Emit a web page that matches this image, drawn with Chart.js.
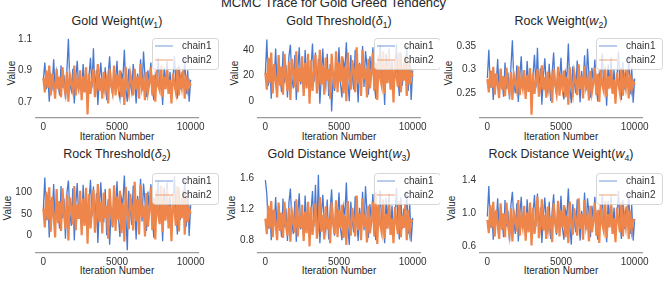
<!DOCTYPE html>
<html>
<head>
<meta charset="utf-8">
<title>MCMC Trace for Gold Greed Tendency</title>
<script src="https://cdn.jsdelivr.net/npm/chart.js"></script>
<style>
    body {
        margin: 0;
        width: 667px;
        height: 282px;
        overflow: hidden;
        position: relative;
        background: #fff;
        font-family: 'Liberation Sans', Arial, sans-serif;
        color: #262626;
    }
    canvas { position: absolute; }
    .suptitle { position: absolute; left: 0; width: 667px; top: -5px; text-align: center; font-size: 13px; line-height: 16px; }
    .ptitle { position: absolute; width: 200px; text-align: center; font-size: 12.5px; line-height: 14px; white-space: nowrap; }
    .ptitle sub { font-size: 70%; vertical-align: -0.3em; line-height: 0; }
    .ylab { position: absolute; width: 60px; text-align: center; font-size: 10px; line-height: 12px; transform: rotate(-90deg); }
    .xlab { position: absolute; width: 160px; text-align: center; font-size: 10px; line-height: 12px; }
</style>
</head>
<body>
<div class="suptitle">MCMC Trace for Gold Greed Tendency</div>
<script>
    // tick positions shared by every panel
    const xTicks = [0, 5000, 10000];
    const iterStep = 100;

    // Gold Weight (w1)
    const goldWeight1 = [0.84,0.95,0.78,0.88,0.70,0.86,0.80,0.97,0.76,0.89,
        0.82,0.74,0.93,0.79,0.87,0.72,0.90,1.10,0.81,0.77,
        0.91,0.69,0.85,0.96,0.78,0.83,0.75,0.94,0.80,0.88,
        0.73,0.86,0.98,0.79,1.04,0.76,0.90,0.68,0.84,0.95,
        0.81,0.77,0.92,0.71,0.87,0.99,0.80,0.75,0.89,0.83,
        0.96,0.78,0.72,0.88,0.85,1.03,0.79,0.70,0.91,0.82,
        0.76,0.94,0.84,0.69,0.88,0.80,0.97,0.77,1.02,0.86,
        0.73,0.90,0.81,0.95,0.78,0.71,0.87,0.83,0.98,0.79,
        0.85,0.68,0.92,0.80,0.96,0.76,0.89,0.74,0.84,0.99,
        0.81,0.72,0.93,0.78,0.87,0.82,0.97,0.75,0.90,0.70,0.84];
    const goldWeight2 = [0.85,0.76,0.90,0.79,0.93,0.74,0.88,0.81,0.72,0.91,
        0.78,0.86,0.73,0.92,0.80,0.75,0.89,0.70,0.87,0.82,
        0.77,0.93,0.74,0.84,0.79,0.90,0.71,0.86,0.76,0.92,
        0.62,0.88,0.75,0.83,0.91,0.73,0.80,0.94,0.77,0.85,
        0.72,0.89,0.78,0.84,0.69,0.91,0.81,0.76,0.93,0.74,
        0.87,0.79,0.90,0.73,0.85,0.68,0.92,0.80,0.75,0.88,
        0.83,0.74,0.91,0.78,0.86,0.72,0.94,0.79,0.84,0.71,
        0.89,0.76,0.82,0.92,0.74,0.87,0.70,0.90,0.80,0.77,
        0.93,0.73,0.86,0.78,0.91,0.75,0.84,0.69,0.88,0.81,
        0.76,0.92,0.74,0.85,0.79,0.90,0.72,0.87,0.78,0.83,0.80];
    const goldWeightTicks = [0.7, 0.9, 1.1];
    const goldWeightTickLabels = ['0.7', '0.9', '1.1'];

    // Gold Threshold (delta1)
    const goldThreshold1 = [21,48,12,33,2,27,16,41,9,30,
        19,7,39,14,28,3,35,44,18,10,
        36,1,24,42,13,22,6,40,17,31,
        5,26,45,15,38,8,33,-2,20,41,
        17,11,37,4,29,-8,18,8,32,22,
        42,14,3,31,25,46,15,0,36,20,
        9,40,24,-1,30,16,43,11,39,27,
        5,35,19,42,13,2,29,21,44,15,
        25,-3,37,17,41,10,32,6,22,45,
        18,4,38,12,30,20,43,8,33,1,24];
    const goldThreshold2 = [22,9,34,14,38,6,29,17,3,36,
        12,27,5,37,19,8,31,1,33,24,
        11,39,7,26,15,35,4,30,10,37,
        -2,32,8,23,36,6,18,40,13,28,
        5,34,16,25,2,37,20,10,39,7,
        30,15,35,6,27,0,38,19,9,32,
        24,7,42,14,29,4,40,17,26,3,
        33,10,22,38,8,30,1,36,18,12,
        39,6,28,14,37,9,25,-1,33,20,
        11,38,7,27,16,35,4,31,13,23,19];
    const goldThresholdTicks = [0, 20, 40];
    const goldThresholdTickLabels = ['0', '20', '40'];

    // Rock Weight (w2)
    const rockWeight1 = [0.282,0.342,0.262,0.297,0.236,0.290,0.268,0.322,0.252,0.301,
        0.276,0.243,0.315,0.259,0.294,0.238,0.305,0.362,0.271,0.250,
        0.309,0.232,0.285,0.328,0.257,0.279,0.245,0.318,0.266,0.298,
        0.240,0.288,0.331,0.262,0.346,0.251,0.303,0.226,0.283,0.324,
        0.270,0.254,0.312,0.234,0.293,0.336,0.268,0.247,0.301,0.278,
        0.325,0.258,0.237,0.296,0.284,0.355,0.263,0.229,0.307,0.274,
        0.250,0.319,0.281,0.231,0.297,0.265,0.330,0.256,0.344,0.286,
        0.241,0.304,0.272,0.321,0.259,0.233,0.292,0.278,0.334,0.263,
        0.285,0.224,0.311,0.267,0.326,0.252,0.300,0.243,0.281,0.338,
        0.270,0.236,0.316,0.258,0.293,0.275,0.329,0.248,0.305,0.230,0.281];
    const rockWeight2 = [0.280,0.252,0.298,0.262,0.306,0.247,0.292,0.268,0.240,0.302,
        0.258,0.286,0.244,0.304,0.266,0.250,0.295,0.236,0.289,0.273,
        0.256,0.307,0.246,0.281,0.262,0.299,0.238,0.288,0.253,0.303,
        0.205,0.293,0.249,0.277,0.301,0.243,0.265,0.309,0.257,0.284,
        0.241,0.296,0.260,0.279,0.230,0.302,0.270,0.251,0.306,0.245,
        0.290,0.263,0.298,0.242,0.283,0.226,0.305,0.268,0.248,0.294,
        0.276,0.246,0.311,0.259,0.287,0.239,0.308,0.264,0.280,0.235,
        0.297,0.252,0.272,0.304,0.246,0.291,0.232,0.300,0.267,0.255,
        0.306,0.243,0.286,0.260,0.302,0.249,0.279,0.228,0.293,0.270,
        0.251,0.305,0.245,0.284,0.262,0.299,0.239,0.290,0.258,0.276,0.268];
    const rockWeightTicks = [0.25, 0.3, 0.35];
    const rockWeightTickLabels = ['0.25', '0.3', '0.35'];

    // Rock Threshold (delta2)
    const rockThreshold1 = [60,135,35,95,-5,82,45,120,25,90,
        58,15,115,40,86,-8,100,128,50,22,
        110,-12,72,122,38,64,12,118,48,92,
        6,80,130,44,114,20,98,-18,62,124,
        52,30,108,0,84,-22,55,18,96,66,
        126,42,-4,88,74,140,46,-35,104,60,
        24,116,70,-10,92,48,132,32,121,80,
        10,102,56,119,40,-6,86,64,127,44,
        76,-14,112,50,124,28,94,14,68,138,
        54,2,113,36,88,60,129,20,100,-2,70];
    const rockThreshold2 = [62,18,102,35,112,8,90,44,-5,108,
        28,80,10,110,50,15,95,-12,88,66,
        25,115,12,72,38,104,0,86,22,111,
        -20,96,16,60,107,6,46,120,31,78,
        4,100,40,68,-8,109,55,20,117,10,
        90,36,104,5,75,-15,113,52,14,97,
        64,11,125,33,84,2,118,42,70,-3,
        99,20,58,112,12,88,-10,106,48,26,
        116,7,80,34,110,16,69,-14,98,56,
        22,114,9,76,40,105,1,91,30,63,50];
    const rockThresholdTicks = [0, 50, 100];
    const rockThresholdTickLabels = ['0', '50', '100'];

    // Gold Distance Weight (w3)
    const goldDist1 = [1.58,1.40,0.95,1.22,0.80,1.18,1.01,1.36,0.90,1.25,
        1.06,0.84,1.34,0.97,1.21,0.79,1.29,1.47,1.03,0.88,
        1.31,0.78,1.14,1.41,0.94,1.09,0.85,1.38,1.00,1.23,
        0.82,1.17,1.44,0.98,1.52,0.89,1.65,0.76,1.12,1.39,
        1.04,0.92,1.33,0.81,1.20,1.46,1.02,0.86,1.26,1.08,
        1.42,0.96,0.80,1.24,1.13,1.55,0.99,0.74,1.30,1.05,
        0.90,1.37,1.10,0.79,1.22,1.00,1.43,0.93,1.50,1.16,
        0.83,1.27,1.04,1.40,0.97,0.80,1.19,1.07,1.45,0.99,
        1.11,0.76,1.35,1.02,1.41,0.91,1.25,0.85,1.10,1.48,
        1.05,0.81,1.36,0.95,1.21,1.06,1.44,0.88,1.28,0.78,1.09];
    const goldDist2 = [1.08,0.88,1.25,0.95,1.31,0.84,1.20,1.00,0.80,1.29,
        0.92,1.16,0.83,1.30,0.99,0.86,1.22,0.78,1.18,1.06,
        0.90,1.33,0.85,1.10,0.96,1.26,0.79,1.17,0.89,1.30,
        0.72,1.23,0.87,1.05,1.28,0.82,0.98,1.36,0.91,1.13,
        0.81,1.24,0.94,1.09,0.76,1.29,1.02,0.88,1.32,0.84,
        1.19,0.96,1.26,0.83,1.12,0.74,1.31,1.01,0.86,1.22,
        1.07,0.85,1.38,0.93,1.15,0.80,1.34,0.97,1.10,0.77,
        1.25,0.89,1.04,1.30,0.85,1.42,0.75,1.27,1.00,0.90,
        1.33,0.82,1.14,0.95,1.29,0.87,1.08,0.76,1.23,1.03,
        0.88,1.31,0.84,1.12,0.96,1.26,0.80,1.19,0.92,1.06,1.04];
    const goldDistTicks = [0.8, 1.2, 1.6];
    const goldDistTickLabels = ['0.8', '1.2', '1.6'];

    // Rock Distance Weight (w4)
    const rockDist1 = [0.96,1.33,0.83,1.05,0.68,1.01,0.87,1.18,0.77,1.08,
        0.92,0.71,1.16,0.84,1.03,0.67,1.10,1.26,0.89,0.75,
        1.12,0.66,0.98,1.20,0.81,0.94,0.73,1.17,0.86,1.04,
        0.70,0.99,1.22,0.84,1.24,0.76,1.07,0.64,0.95,1.19,
        0.90,0.79,1.14,0.69,1.02,1.23,0.88,0.74,1.06,0.93,
        1.21,0.82,0.68,1.04,0.97,1.30,0.85,0.62,1.11,0.91,
        0.77,1.17,0.95,0.67,1.03,0.87,1.25,0.80,1.18,1.00,
        0.71,1.09,0.90,1.20,0.83,0.68,1.01,0.93,1.22,0.85,
        0.96,0.65,1.15,0.88,1.21,0.78,1.07,0.73,0.94,1.27,
        0.91,0.69,1.16,0.81,1.03,0.92,1.23,0.75,1.10,0.67,0.93];
    const rockDist2 = [0.92,0.76,1.10,0.82,1.14,0.72,1.04,0.87,0.69,1.12,
        0.80,1.00,0.71,1.13,0.86,0.74,1.06,0.66,1.02,0.93,
        0.78,1.16,0.73,0.96,0.84,1.09,0.67,1.01,0.77,1.13,
        0.61,1.07,0.75,0.91,1.20,0.70,0.85,1.17,0.79,0.98,
        0.69,1.08,0.82,0.95,0.65,1.12,0.89,0.76,1.15,0.72,
        1.03,0.83,1.10,0.71,0.97,0.64,1.14,0.88,0.74,1.06,
        0.93,0.73,1.18,0.81,0.99,0.68,1.16,0.85,0.96,0.66,
        1.09,0.77,0.90,1.13,0.73,1.04,0.64,1.11,0.87,0.79,
        1.15,0.70,0.99,0.83,1.12,0.75,0.94,0.65,1.07,0.90,
        0.77,1.14,0.72,0.97,0.84,1.09,0.69,1.03,0.80,0.92,0.90];
    const rockDistTicks = [0.6, 1.0, 1.4];
    const rockDistTickLabels = ['0.6', '1.0', '1.4'];

    const blue = '#4878d0';
    const orange = '#ee854a';

    // layout of the 2x3 grid (page pixels)
    const cols = [
        { left: 0, w: 220, yw: 36, padR: 22, cx: 117 },
        { left: 220, w: 220, yw: 38, padR: 20, cx: 339 },
        { left: 440, w: 227, yw: 40, padR: 25, cx: 561 }
    ];
    const rows = [
        { top: 24, h: 114, titleY: 20.5, labY: 73, xlabY: 136.5 },
        { top: 159, h: 114, titleY: 154, labY: 208, xlabY: 271 }
    ];

    const panels = [
        { title: 'Gold Weight(<i>w</i><sub>1</sub>)', c1: goldWeight1, c2: goldWeight2, ticks: goldWeightTicks, labels: goldWeightTickLabels, min: 0.597, max: 1.131, ylabX: 12 },
        { title: 'Gold Threshold(<i>&delta;</i><sub>1</sub>)', c1: goldThreshold1, c2: goldThreshold2, ticks: goldThresholdTicks, labels: goldThresholdTickLabels, min: -13.1, max: 52.4, ylabX: 235 },
        { title: 'Rock Weight(<i>w</i><sub>2</sub>)', c1: rockWeight1, c2: rockWeight2, ticks: rockWeightTicks, labels: rockWeightTickLabels, min: 0.198, max: 0.375, ylabX: 449 },
        { title: 'Rock Threshold(<i>&delta;</i><sub>2</sub>)', c1: rockThreshold1, c2: rockThreshold2, ticks: rockThresholdTicks, labels: rockThresholdTickLabels, min: -41.6, max: 155, ylabX: 8 },
        { title: 'Gold Distance Weight(<i>w</i><sub>3</sub>)', c1: goldDist1, c2: goldDist2, ticks: goldDistTicks, labels: goldDistTickLabels, min: 0.634, max: 1.725, ylabX: 232 },
        { title: 'Rock Distance Weight(<i>w</i><sub>4</sub>)', c1: rockDist1, c2: rockDist2, ticks: rockDistTicks, labels: rockDistTickLabels, min: 0.52, max: 1.535, ylabX: 452 }
    ];

    Chart.defaults.font.family = "'Liberation Sans', Arial, sans-serif";

    // legend box sitting over the top-right corner of the plot
    const legendBox = {
        id: 'legendBox',
        afterDraw(chart) {
            const ctx = chart.ctx;
            const area = chart.chartArea;
            const left = Math.round(area.right - 46), top = Math.round(area.top + 4);
            ctx.save();
            ctx.fillStyle = 'rgba(255,255,255,0.8)';
            ctx.strokeStyle = 'rgba(204,204,204,0.8)';
            ctx.lineWidth = 1;
            ctx.beginPath();
            ctx.roundRect(left + 0.5, top + 0.5, 66, 31, 3);
            ctx.fill();
            ctx.stroke();
            chart.data.datasets.forEach((ds, i) => {
                const y = top + 8 + i * 14;
                ctx.strokeStyle = ds.legendColor;
                ctx.lineWidth = 1.5;
                ctx.beginPath();
                ctx.moveTo(left + 3, y);
                ctx.lineTo(left + 21, y);
                ctx.stroke();
                ctx.fillStyle = '#333';
                ctx.font = "10px 'Liberation Sans', Arial, sans-serif";
                ctx.textBaseline = 'middle';
                ctx.fillText(ds.label, left + 30, y);
            });
            ctx.restore();
        }
    };

    function toXY(values) {
        return values.map((v, i) => ({ x: i * iterStep, y: v }));
    }

    function addDiv(cls, html, left, top) {
        const d = document.createElement('div');
        d.className = cls;
        d.innerHTML = html;
        d.style.left = left + 'px';
        d.style.top = top + 'px';
        document.body.appendChild(d);
    }

    panels.forEach((p, k) => {
        const col = cols[k % 3], row = rows[Math.floor(k / 3)];
        addDiv('ptitle', p.title, col.cx - 100, row.titleY - 7);
        addDiv('ylab', 'Value', p.ylabX - 30, row.labY - 6);
        addDiv('xlab', 'Iteration Number', col.cx - 80, row.xlabY - 6);

        const cv = document.createElement('canvas');
        cv.width = col.w;
        cv.height = row.h;
        cv.style.left = col.left + 'px';
        cv.style.top = row.top + 'px';
        document.body.appendChild(cv);

        new Chart(cv, {
            type: 'line',
            data: {
                datasets: [
                    { label: 'chain1', data: toXY(p.c1), borderColor: blue, legendColor: 'rgba(72,120,208,0.5)', borderWidth: 1.3, pointRadius: 0, order: 1 },
                    { label: 'chain2', data: toXY(p.c2), borderColor: orange, legendColor: 'rgba(238,133,74,0.5)', borderWidth: 2.2, pointRadius: 0, order: 0 }
                ]
            },
            options: {
                responsive: false,
                animation: false,
                devicePixelRatio: 1,
                layout: { padding: { top: 4, right: col.padR, bottom: 0, left: 0 } },
                plugins: { legend: { display: false }, tooltip: { enabled: false } },
                scales: {
                    x: {
                        type: 'linear', min: -500, max: 10500,
                        grid: { display: false, drawTicks: false },
                        border: { display: true, color: '#9a9a9a', width: 1.2 },
                        afterBuildTicks: s => { s.ticks = xTicks.map(v => ({ value: v })); },
                        afterFit: s => { s.height = 20; },
                        ticks: { padding: 3, color: '#333', font: { size: 10 }, maxRotation: 0, autoSkip: false, callback: v => String(v) }
                    },
                    y: {
                        min: p.min, max: p.max,
                        grid: { display: false, drawTicks: false },
                        border: { display: false },
                        afterBuildTicks: s => { s.ticks = p.ticks.map(v => ({ value: v })); },
                        afterFit: s => { s.width = col.yw; },
                        ticks: { padding: 4, color: '#333', font: { size: 10 }, autoSkip: false, callback: v => p.labels[p.ticks.indexOf(v)] }
                    }
                }
            },
            plugins: [legendBox]
        });
    });
</script>
</body>
</html>
